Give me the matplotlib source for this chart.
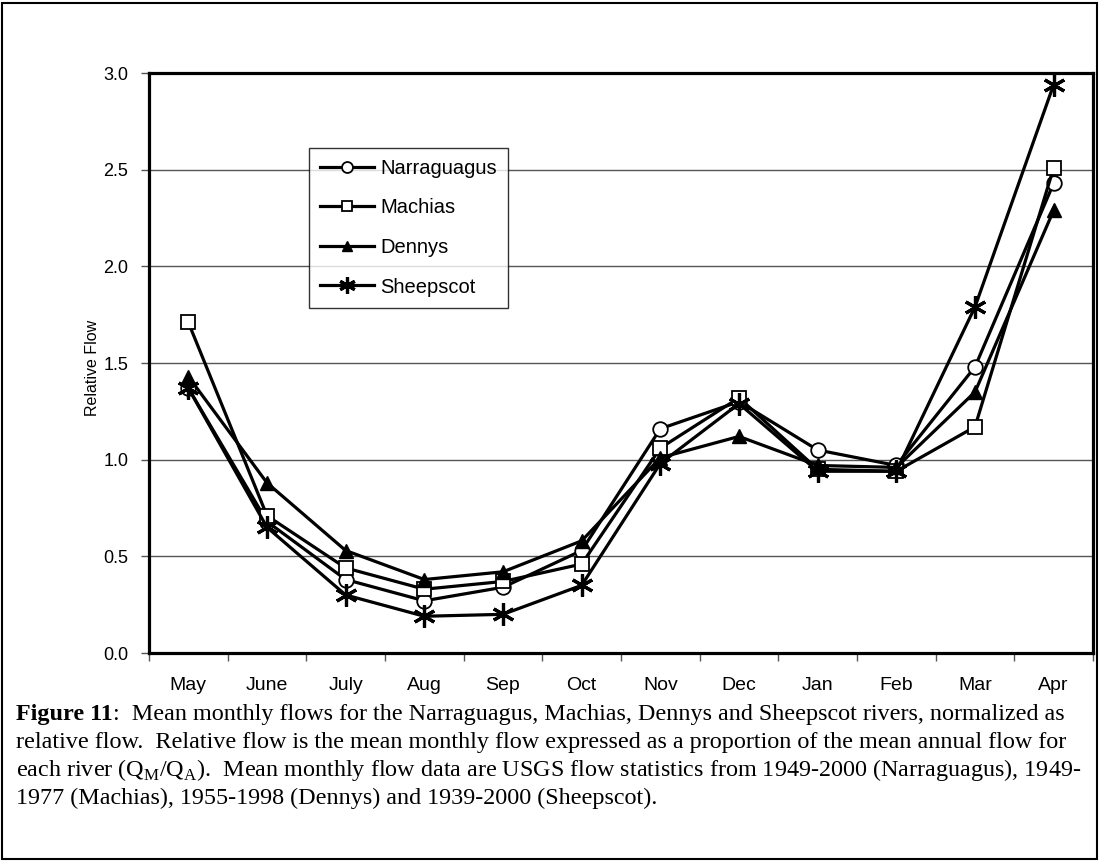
import matplotlib
matplotlib.use("Agg")
import matplotlib.pyplot as plt
from matplotlib.patches import Rectangle

months = ["May", "June", "July", "Aug", "Sep", "Oct", "Nov", "Dec", "Jan", "Feb", "Mar", "Apr"]
narraguagus = [1.37, 0.68, 0.38, 0.27, 0.34, 0.53, 1.16, 1.30, 1.05, 0.97, 1.48, 2.43]
machias = [1.71, 0.71, 0.44, 0.33, 0.37, 0.46, 1.06, 1.32, 0.95, 0.94, 1.17, 2.51]
dennys = [1.43, 0.88, 0.53, 0.38, 0.42, 0.58, 1.01, 1.12, 0.97, 0.96, 1.35, 2.29]
sheepscot = [1.37, 0.65, 0.30, 0.19, 0.20, 0.35, 0.98, 1.29, 0.94, 0.94, 1.79, 2.94]
yticks = [0.0, 0.5, 1.0, 1.5, 2.0, 2.5, 3.0]

caption_bold = "Figure 11"
caption_lines = [
    ":  Mean monthly flows for the Narraguagus, Machias, Dennys and Sheepscot rivers, normalized as",
    "relative flow.  Relative flow is the mean monthly flow expressed as a proportion of the mean annual flow for",
    r"each river (Q$_\mathregular{M}$/Q$_\mathregular{A}$).  Mean monthly flow data are USGS flow statistics from 1949-2000 (Narraguagus), 1949-",
    "1977 (Machias), 1955-1998 (Dennys) and 1939-2000 (Sheepscot).",
]

plt.rcParams['font.family'] = ['Liberation Sans', 'DejaVu Sans']
plt.rcParams['mathtext.fontset'] = 'custom'
plt.rcParams['mathtext.rm'] = 'Liberation Serif'

W, H = 1100, 861
fig = plt.figure(figsize=(11, 8.61), dpi=100)
ax = fig.add_axes([149/W, 1-653/H, 944/W, 580/H])

x = list(range(len(months)))
common = dict(color='black', lw=2.3, clip_on=False)
ax.plot(x, narraguagus, marker='o', ms=10.5, mfc='white', mec='black', mew=1.3, label='Narraguagus', **common)
ax.plot(x, machias, marker='s', ms=10.5, mfc='white', mec='black', mew=1.3, label='Machias', **common)
ax.plot(x, dennys, marker='^', ms=10, mfc='black', mec='black', label='Dennys', **common)
ax.plot(x, sheepscot, marker=(6, 2, 0), ms=16, mec='black', mew=2.3, label='Sheepscot', **common)

ax.set_xlim(-0.5, 11.5)
ax.set_ylim(0, 3.0)
ax.set_yticks(yticks)
ax.set_yticklabels([f"{v:.1f}" for v in yticks], fontsize=13)
ax.set_xticks(x)
ax.set_xticklabels(months, fontsize=14)
ax.tick_params(axis='x', length=0, pad=17)
ax.set_xticks([i - 0.5 for i in range(13)], minor=True)
ax.tick_params(axis='x', which='minor', length=6, width=1, color='#555555')
ax.tick_params(axis='y', length=6, width=1, color='#555555', pad=9)
ax.grid(axis='y', color='#555555', lw=1)
ax.set_axisbelow(True)
for s in ax.spines.values():
    s.set_linewidth(2.3)
ax.set_ylabel("Relative Flow", fontsize=11.5)
ax.yaxis.set_label_coords(-0.052, 0.491)

leg = ax.legend(loc='upper left', bbox_to_anchor=(0.169, 0.871), frameon=True, fancybox=False,
                edgecolor='black', fontsize=14.5, handlelength=2.7, labelspacing=1.02,
                borderpad=0.55, handletextpad=0.3, markerscale=0.75, borderaxespad=0)
leg.get_frame().set_linewidth(1.0)

# outer frame
fig.patches.append(Rectangle((2/W, 2/H), 1095/W, 856/H, transform=fig.transFigure,
                             fill=False, edgecolor='black', lw=1.5))

# caption
serif = ['Liberation Serif', 'DejaVu Serif']
fs = 17.4
line_y = [720, 748, 776, 804]
t1 = fig.text(16/W, 1-line_y[0]/H, caption_bold, fontsize=fs, fontweight='bold', family=serif, va='baseline')
fig.canvas.draw()
ax.annotate(caption_lines[0], xy=(1, 0), xycoords=t1, xytext=(0, 0), textcoords='offset points',
            va='bottom', ha='left', fontsize=fs, family=serif, annotation_clip=False)
for li in range(1, 4):
    fig.text(16/W, 1-line_y[li]/H, caption_lines[li], fontsize=fs, family=serif, va='baseline')

fig.savefig("out.png", dpi=100)
